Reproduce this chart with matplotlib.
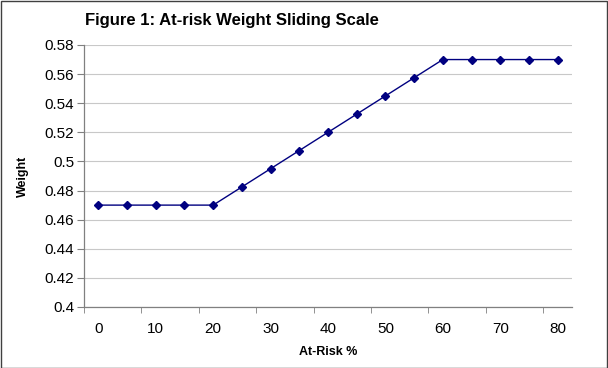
import matplotlib
matplotlib.use("Agg")
import matplotlib.pyplot as plt
from matplotlib.patches import Rectangle

plt.rcParams['font.family'] = ['Liberation Sans', 'DejaVu Sans']

at_risk = [0, 5, 10, 15, 20, 25, 30, 35, 40, 45, 50, 55, 60, 65, 70, 75, 80]
weight = [0.47, 0.47, 0.47, 0.47, 0.47, 0.4825, 0.495, 0.5075, 0.52, 0.5325,
          0.545, 0.5575, 0.57, 0.57, 0.57, 0.57, 0.57]
x_labels = [0, 10, 20, 30, 40, 50, 60, 70, 80]
y_ticks = [0.4, 0.42, 0.44, 0.46, 0.48, 0.5, 0.52, 0.54, 0.56, 0.58]
y_labels = ['0.4', '0.42', '0.44', '0.46', '0.48', '0.5', '0.52', '0.54', '0.56', '0.58']

fig = plt.figure(figsize=(6.08, 3.68), dpi=100)
ax = fig.add_axes([84/608, 1-307/368, (572-84)/608, (307-45)/368])

ax.plot(at_risk, weight, color='#000080', lw=1.0, marker='D', markersize=4.5,
        markerfacecolor='#000080', markeredgecolor='#000080', zorder=3)

ax.set_xlim(-2.5, 82.5)
ax.set_ylim(0.4, 0.58)
ax.set_yticks(y_ticks)
ax.set_yticklabels(y_labels)
ax.yaxis.grid(True, color='#c8c8c8', lw=0.8)
ax.set_axisbelow(True)

# x: labels at values, tick marks between
ax.set_xticks(x_labels)
ax.set_xticklabels([str(v) for v in x_labels])
ax.tick_params(axis='x', length=0, pad=11, labelsize=11)
ax.set_xticks([v - 2.5 for v in x_labels], minor=True)
ax.tick_params(axis='x', which='minor', length=4, direction='out', color='#808080')
ax.tick_params(axis='y', length=5, direction='out', color='#808080', labelsize=11, pad=2)

for s in ['top', 'right']:
    ax.spines[s].set_visible(False)
for s in ['left', 'bottom']:
    ax.spines[s].set_color('#808080')
    ax.spines[s].set_linewidth(0.9)

ax.set_xlabel('At-Risk %', fontsize=9, fontweight='bold', labelpad=7)
ax.set_ylabel('Weight', fontsize=9, fontweight='bold', labelpad=11)

fig.text(85/608, 1-25/368, 'Figure 1: At-risk Weight Sliding Scale', fontsize=12,
         fontweight='bold', ha='left', va='baseline')

fig.patches.append(Rectangle((0.5/608, 0.5/368), 1-1.5/608, 1-1.5/368,
                             transform=fig.transFigure, fill=False,
                             edgecolor='#404040', lw=1.0))

fig.savefig('out.png', dpi=100)
